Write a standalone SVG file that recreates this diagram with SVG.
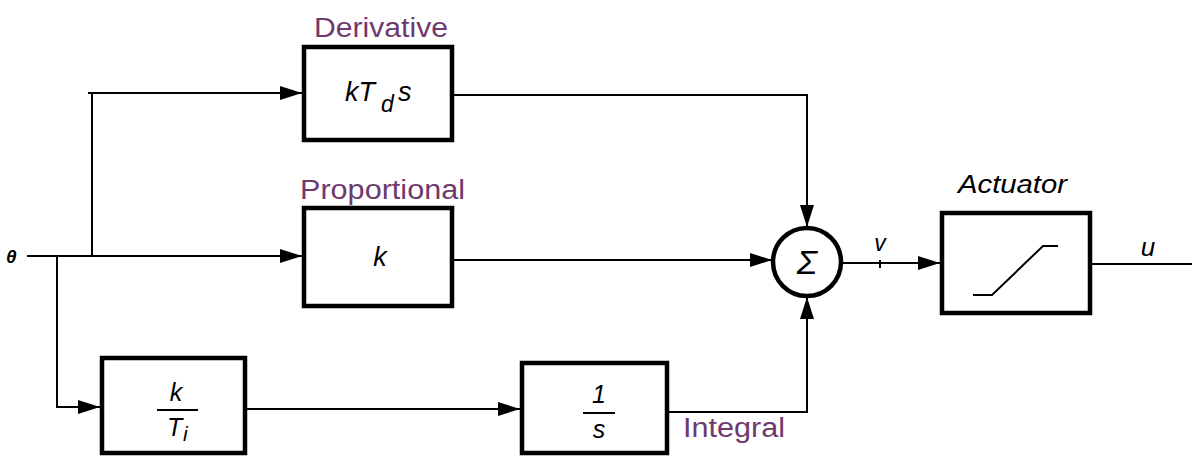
<svg xmlns="http://www.w3.org/2000/svg" width="1192" height="457" viewBox="0 0 1192 457">
<style>
.box{fill:#fff;stroke:#000;stroke-width:4.5}
.wire{fill:none;stroke:#000;stroke-width:2}
.lbl{font-family:"Liberation Sans",Arial,sans-serif;font-size:27px;fill:#6e3a6e}
.math{font-family:"Liberation Sans",Arial,sans-serif;font-style:italic;fill:#000}
</style>
<defs>
<marker id="ah" markerUnits="userSpaceOnUse" markerWidth="24" markerHeight="16" refX="22" refY="7" orient="auto">
<path d="M0,0 L22,7 L0,14 z" fill="#000"/>
</marker>
</defs>
<rect width="1192" height="457" fill="#fff"/>
<g id="connectors">
<path class="wire" d="M27,256 H302" marker-end="url(#ah)"/>
<path class="wire" d="M92,256 V93"/>
<path class="wire" d="M88,93 H302" marker-end="url(#ah)"/>
<path class="wire" d="M57,256 V407 H100" marker-end="url(#ah)"/>
<path class="wire" d="M245,409 H520" marker-end="url(#ah)"/>
<path class="wire" d="M667,412 H807 V297" marker-end="url(#ah)"/>
<path class="wire" d="M452,95 H807 V227" marker-end="url(#ah)"/>
<path class="wire" d="M452,260 H772" marker-end="url(#ah)"/>
<path class="wire" d="M841,263 H940" marker-end="url(#ah)"/>
<path class="wire" d="M880,260 V268"/>
<path class="wire" d="M1090,264 H1192"/>
</g>
<g id="input">
<text class="math" x="6" y="263" font-size="19" font-weight="bold">θ</text>
</g>
<g id="derivative">
<text class="lbl" x="314" y="37" textLength="134" lengthAdjust="spacingAndGlyphs">Derivative</text>
<rect class="box" x="304" y="47" width="148" height="93"/>
<text class="math" x="345" y="101" font-size="27">kT</text>
<text class="math" x="381" y="112" font-size="23">d</text>
<text class="math" x="398" y="101" font-size="27">s</text>
</g>
<g id="proportional">
<text class="lbl" x="300" y="199" textLength="165" lengthAdjust="spacingAndGlyphs">Proportional</text>
<rect class="box" x="304" y="208" width="148" height="98"/>
<text class="math" x="380" y="266" font-size="27" text-anchor="middle">k</text>
</g>
<g id="gain-integral">
<rect class="box" x="102" y="358" width="143" height="95"/>
<text class="math" x="176" y="401" font-size="25" text-anchor="middle">k</text>
<line x1="157" y1="410" x2="198" y2="410" stroke="#000" stroke-width="2"/>
<text class="math" x="167" y="436" font-size="25">T</text>
<text class="math" x="183" y="441" font-size="21">i</text>
</g>
<g id="integrator">
<rect class="box" x="522" y="363" width="145" height="90"/>
<text class="math" x="599" y="403" font-size="25" text-anchor="middle">1</text>
<line x1="583" y1="413" x2="615" y2="413" stroke="#000" stroke-width="2"/>
<text class="math" x="599" y="438" font-size="25" text-anchor="middle">s</text>
<text class="lbl" x="683" y="437" textLength="102" lengthAdjust="spacingAndGlyphs">Integral</text>
</g>
<g id="sum">
<circle cx="807" cy="262" r="34" fill="#fff" stroke="#000" stroke-width="4.5"/>
<text class="math" x="807" y="274" font-size="34" text-anchor="middle">Σ</text>
</g>
<g id="v-label">
<text class="math" x="880" y="251" font-size="23" text-anchor="middle">v</text>
</g>
<g id="actuator">
<text class="math" x="958" y="193" font-size="25" textLength="109" lengthAdjust="spacingAndGlyphs">Actuator</text>
<rect class="box" x="942" y="213" width="148" height="100"/>
<path d="M973,295 H992 L1043,246 H1058" fill="none" stroke="#000" stroke-width="2"/>
</g>
<g id="u-label">
<text class="math" x="1148" y="256" font-size="26" text-anchor="middle">u</text>
</g>
</svg>
